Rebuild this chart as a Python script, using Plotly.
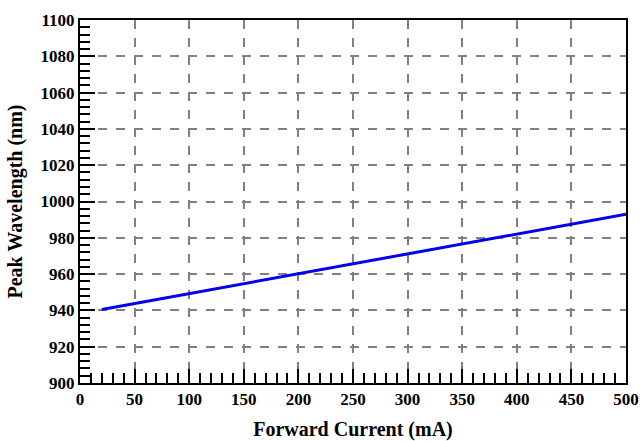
import plotly.graph_objects as go

current_ma = [20, 50, 100, 150, 200, 250, 300, 350, 400, 450, 500]
wavelength_nm = [940.5, 943.8, 949.3, 954.8, 960.2, 965.7, 971.2, 976.6, 982.0, 987.5, 993.0]

font = "Liberation Serif, Times New Roman, serif"

fig = go.Figure()
fig.add_trace(go.Scatter(x=current_ma, y=wavelength_nm, mode="lines",
                         line=dict(color="#0000ee", width=3), showlegend=False))

axis_common = dict(
    showline=True, linecolor="black", linewidth=2, mirror=True,
    ticks="inside", tickcolor="black", tickwidth=2,
    showgrid=True, gridcolor="#808080", gridwidth=1.5, griddash="9px,9px",
    zeroline=False, automargin=False, ticklabeloverflow="allow",
    tickfont=dict(family=font, size=17, color="black", weight="bold"),
)

fig.update_xaxes(range=[0, 500], dtick=50, ticklen=14,
                 minor=dict(dtick=10, ticks="inside", ticklen=10, tickcolor="black", tickwidth=2, showgrid=False),
                 title=dict(text="<b>Forward Current (mA)</b>", font=dict(family=font, size=20, color="black"), standoff=17),
                 **axis_common)
fig.update_yaxes(range=[900, 1100], dtick=20, ticklen=15,
                 minor=dict(dtick=4, ticks="inside", ticklen=10, tickcolor="black", tickwidth=2, showgrid=False),
                 title=dict(text="<b>Peak Wavelength (nm)</b>", font=dict(family=font, size=20, color="black"), standoff=13),
                 **axis_common)

fig.update_layout(width=640, height=441, margin=dict(l=80, r=14, t=20, b=58),
                  plot_bgcolor="white", paper_bgcolor="white")

fig.write_html("out.html", config={"displayModeBar": False},
               post_script="document.body.style.margin='0';document.body.style.overflow='hidden';")
